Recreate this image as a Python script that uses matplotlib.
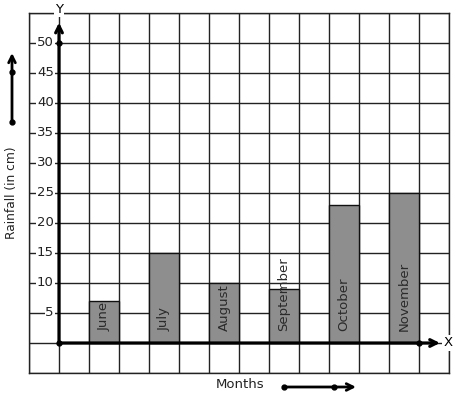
import matplotlib
matplotlib.use("Agg")
import matplotlib.pyplot as plt
import numpy as np

months = ["June", "July", "August", "September", "October", "November"]
rainfall = [7, 15, 10, 9, 23, 25]
y_ticks = [5, 10, 15, 20, 25, 30, 35, 40, 45, 50]

W, H = 457, 399
fig = plt.figure(figsize=(W / 100, H / 100), dpi=100)
ax = fig.add_axes([29 / W, (H - 373) / H, 420 / W, 360 / H])
ax.set_xlim(-1, 13)
ax.set_ylim(-5, 55)
ax.set_xticks(np.arange(-1, 14, 1))
ax.set_yticks(np.arange(-5, 56, 5))
ax.tick_params(length=0, labelbottom=False, labelleft=False)
ax.grid(True, color="#222222", linewidth=1.0)
ax.set_axisbelow(True)
for s in ax.spines.values():
    s.set_color("#222222")
    s.set_linewidth(1.0)

pos = [1 + 2 * i for i in range(len(months))]
ax.bar(pos, rainfall, width=1, align="edge", color="#8e8e8e",
       edgecolor="#111111", linewidth=1.0, zorder=3)
for p, m in zip(pos, months):
    ax.text(p + 0.5, 2, m, rotation=90, ha="center", va="bottom",
            fontsize=9.5, color="#2a2a2a", zorder=5)

# axes with arrows
ax.annotate("", xy=(0, 53.4), xytext=(0, 0),
            arrowprops=dict(arrowstyle="->", lw=2.3, color="black",
                            shrinkA=0, shrinkB=0, mutation_scale=12), zorder=6)
ax.annotate("", xy=(12.7, 0), xytext=(0, 0),
            arrowprops=dict(arrowstyle="->", lw=2.3, color="black",
                            shrinkA=0, shrinkB=0, mutation_scale=12), zorder=6)
ax.plot([0, 0, 12], [0, 50, 0], "o", color="black", ms=3.5, zorder=7)

for t in y_ticks:
    ax.text(-0.17, t, str(t), ha="right", va="center", fontsize=9.5,
            color="#222222", zorder=6,
            bbox=dict(boxstyle="square,pad=0.05", fc="white", ec="none"))

ax.text(0, 55.6, "Y", ha="center", va="center", fontsize=9.5, clip_on=False,
        zorder=8, bbox=dict(boxstyle="square,pad=0.1", fc="white", ec="none"))
ax.text(12.97, 0, "X", ha="center", va="center", fontsize=9.5, clip_on=False,
        zorder=8, bbox=dict(boxstyle="square,pad=0.1", fc="white", ec="none"))

# left annotation arrow and ylabel
fig.text(12 / W, 1 - 193 / H, "Rainfall (in cm)", rotation=90, ha="center",
         va="center", fontsize=8.8, color="#222222")
ax.annotate("", xy=(12, H - 53), xytext=(12, H - 122), xycoords="figure pixels",
            textcoords="figure pixels",
            arrowprops=dict(arrowstyle="->", lw=2.0, color="black",
                            shrinkA=0, shrinkB=0, mutation_scale=12),
            annotation_clip=False)
fig.add_artist(plt.Line2D([12 / W, 12 / W], [1 - 122 / H, 1 - 72 / H], ls="none",
                          marker="o", ms=3.5, color="black"))

fig.text(240 / W, 1 - 385 / H, "Months", ha="center", va="center",
         fontsize=9.5, color="#222222")
ax.annotate("", xy=(356, H - 387), xytext=(284, H - 387), xycoords="figure pixels",
            textcoords="figure pixels",
            arrowprops=dict(arrowstyle="->", lw=2.0, color="black",
                            shrinkA=0, shrinkB=0, mutation_scale=12),
            annotation_clip=False)
fig.add_artist(plt.Line2D([284 / W, 334 / W], [1 - 387 / H, 1 - 387 / H], ls="none",
                          marker="o", ms=3.5, color="black"))

fig.savefig("out.png", dpi=100)
